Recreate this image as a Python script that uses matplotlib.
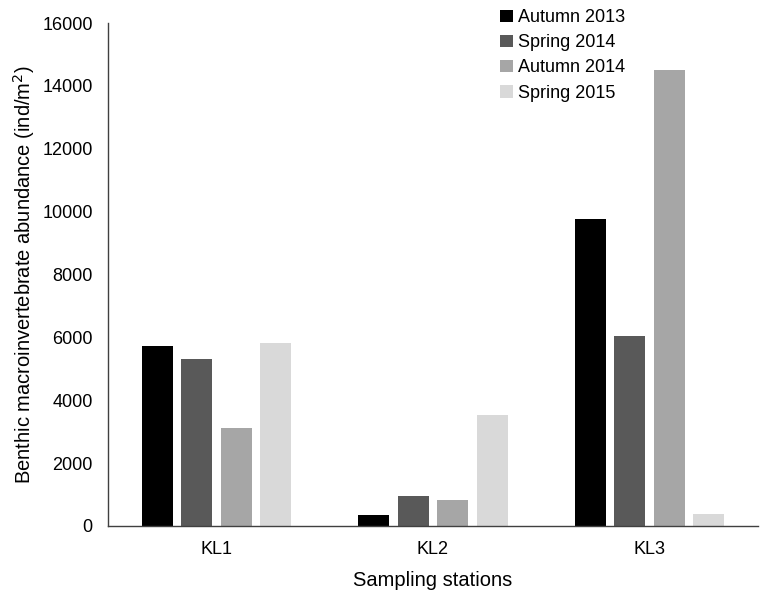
import matplotlib
matplotlib.use("Agg")
import matplotlib.pyplot as plt
import numpy as np

plt.rcParams['font.family'] = ['Liberation Sans', 'DejaVu Sans']

stations = ["KL1", "KL2", "KL3"]
series_names = ["Autumn 2013", "Spring 2014", "Autumn 2014", "Spring 2015"]
autumn_2013 = [5720, 350, 9770]
spring_2014 = [5320, 970, 6030]
autumn_2014 = [3110, 840, 14520]
spring_2015 = [5810, 3540, 380]
colors = ["#000000", "#595959", "#a6a6a6", "#d9d9d9"]

fig = plt.figure(figsize=(7.62, 5.91), dpi=100)
ax = fig.add_axes([108/762, 1-526/591, 650/762, (526-23)/591])

x = np.arange(len(stations))
pitch = 0.182
width = 0.143
for i, (vals, name, c) in enumerate(zip([autumn_2013, spring_2014, autumn_2014, spring_2015], series_names, colors)):
    ax.bar(x + (i - 1.5) * pitch, vals, width, color=c, label=name)

ax.set_xlim(-0.5, 2.5)
ax.set_ylim(0, 16000)
ax.set_yticks(np.arange(0, 16001, 2000))
ax.set_xticks(x)
ax.set_xticklabels(stations)
ax.tick_params(axis='y', length=0, labelsize=13, colors='#000000', pad=11)
ax.tick_params(axis='x', length=0, labelsize=13, colors='#000000', pad=11)
for s in ['top', 'right']:
    ax.spines[s].set_visible(False)
for s in ['left', 'bottom']:
    ax.spines[s].set_color('#404040')
    ax.spines[s].set_linewidth(1.0)

ax.set_xlabel("Sampling stations", fontsize=14.5, labelpad=9)
ax.set_ylabel("Benthic macroinvertebrate abundance (ind/m$^2$)", fontsize=14.5, labelpad=4)

leg = fig.legend(loc='upper left', bbox_to_anchor=(493/762, 1-2/591), frameon=False,
                 fontsize=13, handlelength=0.7, handleheight=0.7, handletextpad=0.3,
                 labelspacing=0.45, borderaxespad=0)

fig.savefig("out.png", dpi=100)
